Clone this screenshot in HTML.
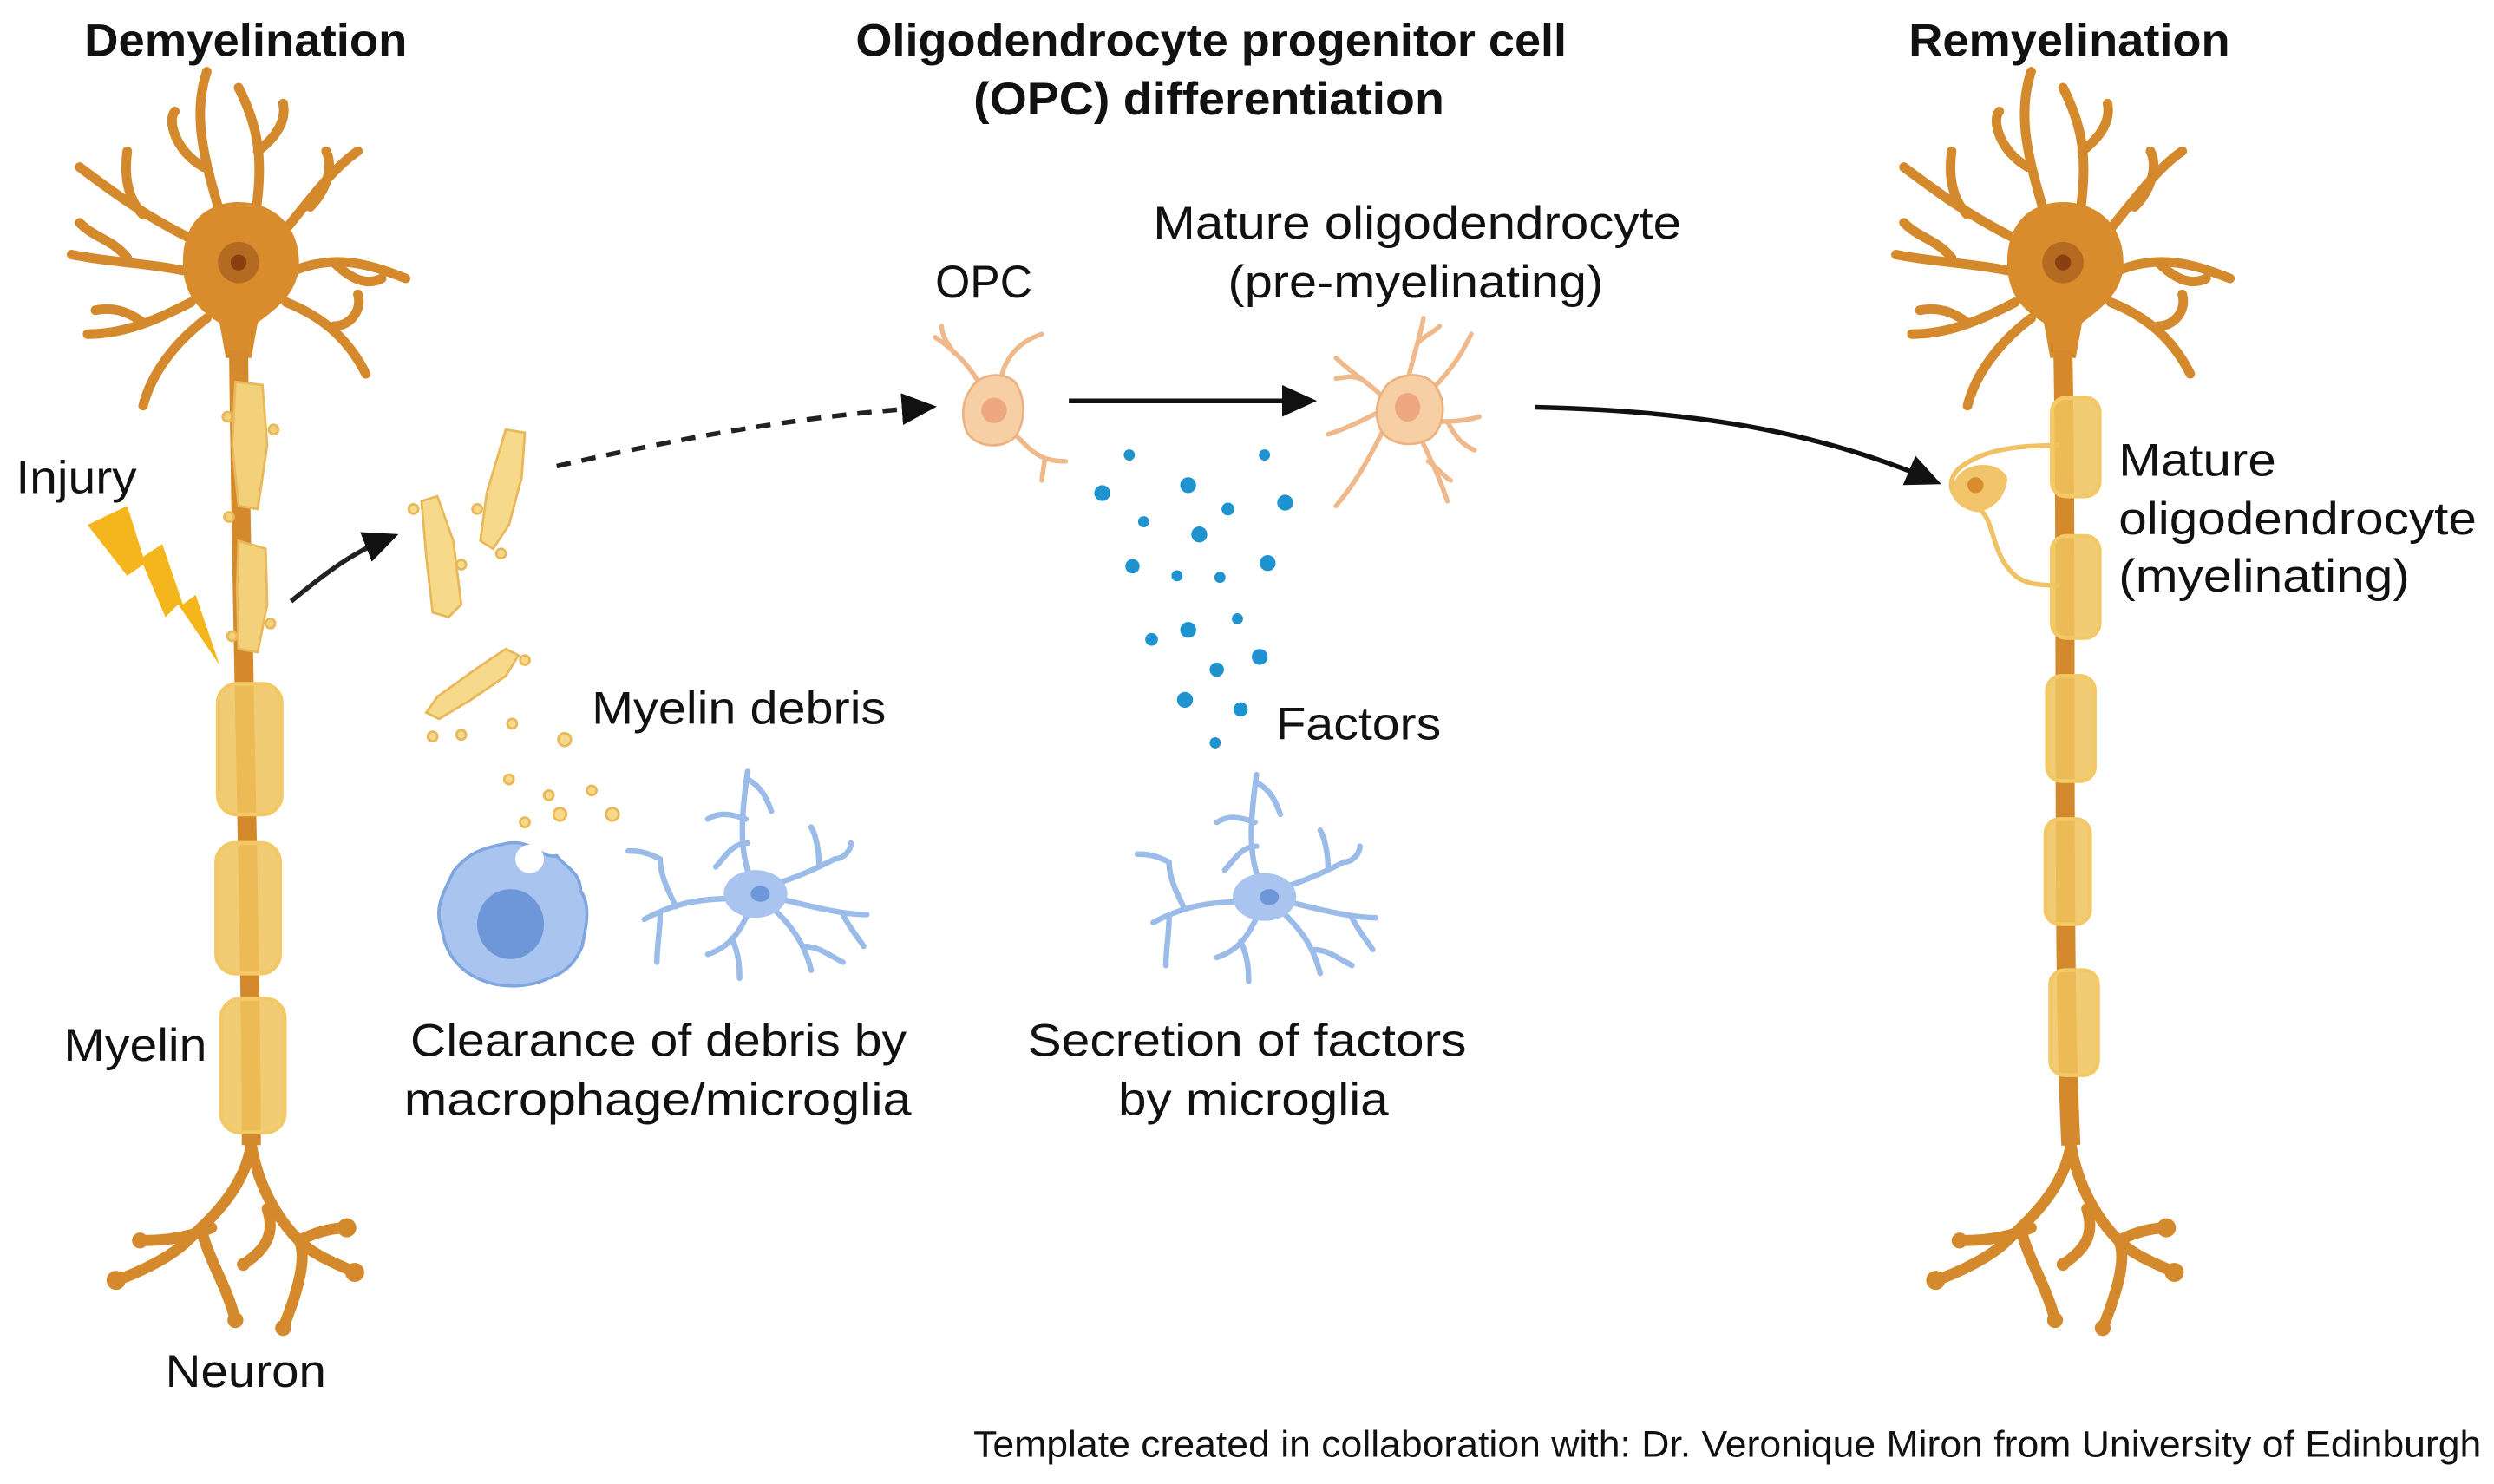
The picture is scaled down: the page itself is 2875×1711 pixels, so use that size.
<!DOCTYPE html>
<html><head><meta charset="utf-8"><style>
html,body{margin:0;padding:0;background:#fff}
svg{display:block}
text{font-family:"Liberation Sans",Arial,sans-serif;fill:#111}
</style></head><body>
<svg width="2875" height="1711" viewBox="0 0 1568 933" xmlns="http://www.w3.org/2000/svg">
<defs>
<marker id="ah2" markerWidth="22" markerHeight="20" refX="16" refY="10" orient="auto" markerUnits="userSpaceOnUse">
<path d="M0,0 L22,10 L0,20 Z" fill="#111"/>
</marker>
<g id="neuronTop">
  <g stroke="#d48a2c" stroke-width="6" fill="none" stroke-linecap="round">
    <path d="M-10,-25 C-20,-60 -30,-90 -20,-120"/>
    <path d="M-22,-60 C-40,-70 -45,-90 -40,-95"/>
    <path d="M10,-25 C15,-60 15,-80 0,-110"/>
    <path d="M12,-70 C25,-80 30,-90 28,-100"/>
    <path d="M25,-15 C45,-40 60,-60 75,-70"/>
    <path d="M45,-35 C55,-45 60,-60 55,-70"/>
    <path d="M35,5 C60,-5 80,0 105,10"/>
    <path d="M60,0 C70,10 80,15 90,10"/>
    <path d="M30,25 C55,35 70,50 80,70"/>
    <path d="M60,40 C70,40 78,30 75,20"/>
    <path d="M-30,-15 C-60,-30 -80,-45 -100,-60"/>
    <path d="M-60,-30 C-70,-40 -72,-55 -70,-70"/>
    <path d="M-35,5 C-60,0 -80,0 -105,-5"/>
    <path d="M-70,-3 C-80,-15 -90,-15 -100,-25"/>
    <path d="M-30,25 C-50,35 -70,45 -95,45"/>
    <path d="M-60,38 C-70,30 -80,28 -90,30"/>
    <path d="M-20,35 C-40,50 -55,70 -60,90"/>
  </g>
  <path d="M-35,0 C-35,-30 -15,-38 0,-38 C20,-38 38,-25 38,0 C38,20 22,30 12,38 L8,60 L-8,60 L-12,38 C-25,30 -35,20 -35,0 Z" fill="#d88c2c"/>
  <circle cx="0" cy="0" r="13" fill="#b56a22"/>
  <circle cx="0" cy="0" r="5" fill="#8a3f10"/>
</g>
<g id="neuronBot">
  <g stroke="#d48a2c" stroke-width="7" fill="none" stroke-linecap="round">
    <path d="M0,0 C-5,30 -30,50 -40,60 C-50,70 -70,80 -85,85"/>
    <path d="M-25,52 C-45,60 -60,60 -70,60"/>
    <path d="M-30,58 C-25,75 -15,90 -10,110"/>
    <path d="M0,0 C5,30 20,50 30,60 C40,70 55,75 65,80"/>
    <path d="M30,60 C35,70 30,90 20,115"/>
    <path d="M30,60 C40,55 50,52 60,52"/>
    <path d="M10,40 C15,55 10,65 -5,75"/>
  </g>
  <g fill="#d48a2c"><circle cx="-85" cy="85" r="6"/><circle cx="-70" cy="60" r="5"/><circle cx="-10" cy="110" r="5"/><circle cx="65" cy="80" r="6"/><circle cx="20" cy="115" r="5"/><circle cx="60" cy="52" r="6"/><circle cx="-5" cy="75" r="4"/></g>
</g>
<g id="mglia" stroke="#9bbbe9" stroke-width="3.5" fill="none" stroke-linecap="round">
  <path d="M0,0 C-10,-20 -10,-40 -5,-75 M-6,-45 C-20,-50 -25,-48 -30,-45 M-5,-70 C5,-65 8,-55 10,-50 M-5,-30 C-15,-30 -20,-20 -25,-15"/>
  <path d="M-15,5 C-40,5 -55,10 -70,18 M-50,10 C-55,0 -60,-10 -60,-20 M-60,-20 C-70,-25 -75,-25 -80,-25 M-60,15 C-60,25 -62,35 -62,45"/>
  <path d="M10,10 C20,20 30,30 35,50 M30,35 C40,35 45,40 55,45"/>
  <path d="M-5,15 C-10,25 -15,35 -30,40 M-15,30 C-10,40 -10,50 -10,55"/>
  <path d="M15,-5 C30,-10 40,-15 50,-20 M40,-15 C40,-25 38,-35 35,-40 M50,-20 C55,-20 60,-25 60,-30"/>
  <path d="M15,5 C35,10 55,15 70,15 M55,15 C60,25 65,30 68,35"/>
</g>
</defs>

<!-- Titles -->
<text x="53" y="35" font-size="29" font-weight="bold" textLength="203" lengthAdjust="spacingAndGlyphs">Demyelination</text>
<text x="538" y="35" font-size="29" font-weight="bold" textLength="447" lengthAdjust="spacingAndGlyphs">Oligodendrocyte progenitor cell</text>
<text x="612" y="72" font-size="29" font-weight="bold" textLength="296" lengthAdjust="spacingAndGlyphs">(OPC) differentiation</text>
<text x="1200" y="35" font-size="29" font-weight="bold" textLength="202" lengthAdjust="spacingAndGlyphs">Remyelination</text>

<!-- Left neuron -->
<use href="#neuronTop" x="150" y="165"/>
<path d="M150,220 C152,400 158,600 158,720" stroke="#d48a2c" stroke-width="12" fill="none"/>
<use href="#neuronBot" x="158" y="720"/>
<g fill="#f3d17a" stroke="#e8b85a" stroke-width="1.5">
<path d="M148,240 L165,242 L168,280 L162,320 L150,318 L146,280 Z"/>
<path d="M150,340 L167,345 L168,380 L162,410 L150,408 L149,370 Z"/>
<circle cx="143" cy="262" r="3"/><circle cx="172" cy="270" r="3"/><circle cx="144" cy="325" r="3"/><circle cx="170" cy="392" r="3"/><circle cx="146" cy="400" r="3"/>
</g>
<g fill="#f0c35d" fill-opacity="0.85" stroke="#f2c966" stroke-width="2.5">
<rect x="137" y="430" width="40" height="82" rx="12"/>
<rect x="136" y="530" width="40" height="82" rx="12"/>
<rect x="139" y="628" width="40" height="84" rx="12"/>
</g>
<path d="M55,330 L80,318 L90,350 L102,342 L115,380 L123,374 L138,418 L112,380 L104,388 L90,355 L80,362 Z" fill="#f5b51c"/>
<text x="10" y="310" font-size="29" textLength="76" lengthAdjust="spacingAndGlyphs">Injury</text>
<text x="40" y="667" font-size="29" textLength="90" lengthAdjust="spacingAndGlyphs">Myelin</text>
<text x="104" y="872" font-size="29" textLength="101" lengthAdjust="spacingAndGlyphs">Neuron</text>

<path d="M183,378 C205,360 222,347 245,338" stroke="#222" stroke-width="3" fill="none" marker-end="url(#ah2)"/>
<g fill="#f6d98a" stroke="#e8b85a" stroke-width="1.5">
<path d="M265,315 L275,312 L285,340 L290,380 L282,388 L272,385 L268,350 Z"/>
<path d="M318,270 L330,272 L328,300 L320,330 L310,345 L302,340 L306,310 Z"/>
<path d="M268,448 L275,438 L300,420 L318,408 L326,412 L318,425 L296,440 L276,452 Z"/>
<circle cx="260" cy="320" r="3"/><circle cx="290" cy="355" r="3"/><circle cx="315" cy="348" r="3"/><circle cx="300" cy="320" r="3"/><circle cx="330" cy="415" r="3"/><circle cx="272" cy="463" r="3"/><circle cx="290" cy="462" r="3"/><circle cx="322" cy="455" r="3"/><circle cx="355" cy="465" r="4"/><circle cx="320" cy="490" r="3"/><circle cx="345" cy="500" r="3"/><circle cx="372" cy="497" r="3"/><circle cx="385" cy="512" r="4"/><circle cx="352" cy="512" r="4"/><circle cx="330" cy="517" r="3"/>
</g>
<text x="372" y="455" font-size="29" textLength="185" lengthAdjust="spacingAndGlyphs">Myelin debris</text>

<path d="M350,293 C430,275 500,262 583,256" stroke="#222" stroke-width="3" fill="none" stroke-dasharray="9,7" marker-end="url(#ah2)"/>

<path d="M320,530 C335,528 340,540 350,538 C355,545 365,548 365,560 C372,570 368,585 366,595 C362,605 355,612 345,615 C335,620 318,622 305,617 C290,612 280,600 278,585 C272,570 280,560 285,548 C295,535 305,533 320,530 Z" fill="#a9c5ef" stroke="#7fa6e0" stroke-width="2"/>
<circle cx="333" cy="540" r="9" fill="#fff"/>
<ellipse cx="321" cy="581" rx="21" ry="22" fill="#6e97da"/>
<use href="#mglia" x="475" y="560"/>
<ellipse cx="475" cy="562" rx="20" ry="15" fill="#a9c5ef"/>
<ellipse cx="478" cy="562" rx="6" ry="5" fill="#6e97da"/>
<text x="258" y="664" font-size="29" textLength="312" lengthAdjust="spacingAndGlyphs">Clearance of debris by</text>
<text x="254" y="701" font-size="29" textLength="319" lengthAdjust="spacingAndGlyphs">macrophage/microglia</text>

<g stroke="#f0b98b" stroke-width="3" fill="none" stroke-linecap="round">
<path d="M618,245 C610,230 600,220 588,212 M600,222 C595,215 592,210 592,205"/>
<path d="M630,235 C633,225 640,215 655,210"/>
<path d="M640,275 C650,285 655,290 670,290 M657,288 C656,295 655,300 655,302"/>
</g>
<path d="M610,245 C615,235 630,233 638,240 C645,250 645,265 638,275 C630,282 615,282 608,272 C604,262 605,252 610,245 Z" fill="#f7cfa5" stroke="#ecb381" stroke-width="1.5"/>
<circle cx="625" cy="258" r="8" fill="#eda882"/>
<text x="588" y="187" font-size="29" textLength="61" lengthAdjust="spacingAndGlyphs">OPC</text>
<line x1="672" y1="252" x2="822" y2="252" stroke="#111" stroke-width="3" marker-end="url(#ah2)"/>

<g stroke="#f0b98b" stroke-width="3" fill="none" stroke-linecap="round">
<path d="M885,240 C888,225 892,215 895,200 M892,215 C897,210 903,208 905,205"/>
<path d="M900,245 C915,230 920,220 925,210"/>
<path d="M870,250 C860,240 850,235 840,225 M855,238 C850,236 845,237 840,238"/>
<path d="M865,260 C855,265 845,270 835,273"/>
<path d="M870,270 C862,285 855,300 840,318"/>
<path d="M903,265 C910,265 920,265 930,262 M910,265 C915,275 920,280 927,283"/>
<path d="M893,275 C900,290 905,300 910,315 M898,290 C905,295 908,300 912,302"/>
</g>
<path d="M870,245 C875,235 895,232 902,242 C910,252 908,268 900,275 C890,282 873,280 868,270 C864,262 865,252 870,245 Z" fill="#f7cfa5" stroke="#ecb381" stroke-width="1.5"/>
<ellipse cx="885" cy="256" rx="8" ry="9" fill="#eda882"/>
<text x="725" y="150" font-size="29" textLength="332" lengthAdjust="spacingAndGlyphs">Mature oligodendrocyte</text>
<text x="772" y="187" font-size="29" textLength="236" lengthAdjust="spacingAndGlyphs">(pre-myelinating)</text>

<g fill="#1e93d0">
<circle cx="710" cy="286" r="3.5"/><circle cx="795" cy="286" r="3.5"/>
<circle cx="693" cy="310" r="5"/><circle cx="747" cy="305" r="5"/><circle cx="808" cy="316" r="5"/>
<circle cx="719" cy="328" r="3.5"/><circle cx="772" cy="320" r="4"/><circle cx="754" cy="336" r="5"/>
<circle cx="712" cy="356" r="4.5"/><circle cx="797" cy="354" r="5"/><circle cx="740" cy="362" r="3.5"/><circle cx="767" cy="363" r="3.5"/>
<circle cx="778" cy="389" r="3.5"/><circle cx="747" cy="396" r="5"/><circle cx="724" cy="402" r="4"/>
<circle cx="792" cy="413" r="5"/><circle cx="765" cy="421" r="4.5"/>
<circle cx="745" cy="440" r="5"/><circle cx="780" cy="446" r="4.5"/><circle cx="764" cy="467" r="3.5"/>
</g>
<text x="802" y="465" font-size="29" textLength="104" lengthAdjust="spacingAndGlyphs">Factors</text>
<use href="#mglia" x="795" y="562"/>
<ellipse cx="795" cy="564" rx="20" ry="15" fill="#a9c5ef"/>
<ellipse cx="798" cy="564" rx="6" ry="5" fill="#6e97da"/>
<text x="646" y="664" font-size="29" textLength="276" lengthAdjust="spacingAndGlyphs">Secretion of factors</text>
<text x="703" y="701" font-size="29" textLength="170" lengthAdjust="spacingAndGlyphs">by microglia</text>

<path d="M965,256 C1060,258 1140,270 1215,302" stroke="#111" stroke-width="3" fill="none" marker-end="url(#ah2)"/>

<use href="#neuronTop" x="1297" y="165"/>
<path d="M1297,220 C1300,400 1296,600 1302,720" stroke="#d48a2c" stroke-width="12" fill="none"/>
<use href="#neuronBot" x="1302" y="720"/>
<path d="M1295,280 C1270,280 1250,282 1235,292 C1222,300 1225,315 1240,318 C1255,322 1250,345 1265,360 C1272,368 1285,368 1295,368" stroke="#f0c266" stroke-width="3" fill="none"/>
<path d="M1228,305 C1232,290 1255,288 1262,300 C1262,310 1255,320 1243,322 C1232,320 1225,313 1228,305 Z" fill="#f1c46a"/>
<circle cx="1242" cy="305" r="5" fill="#d88c2c"/>
<g fill="#f0c35d" fill-opacity="0.85" stroke="#f2c966" stroke-width="2.5">
<rect x="1290" y="250" width="30" height="62" rx="9"/>
<rect x="1290" y="337" width="30" height="64" rx="9"/>
<rect x="1287" y="425" width="30" height="66" rx="9"/>
<rect x="1286" y="515" width="28" height="66" rx="9"/>
<rect x="1289" y="610" width="30" height="66" rx="9"/>
</g>
<text x="1332" y="299" font-size="29" textLength="99" lengthAdjust="spacingAndGlyphs">Mature</text>
<text x="1332" y="336" font-size="29" textLength="225" lengthAdjust="spacingAndGlyphs">oligodendrocyte</text>
<text x="1332" y="372" font-size="29" textLength="183" lengthAdjust="spacingAndGlyphs">(myelinating)</text>

<text x="612" y="916" font-size="23" textLength="948" lengthAdjust="spacingAndGlyphs">Template created in collaboration with: Dr. Veronique Miron from University of Edinburgh</text>
</svg>
</body></html>
